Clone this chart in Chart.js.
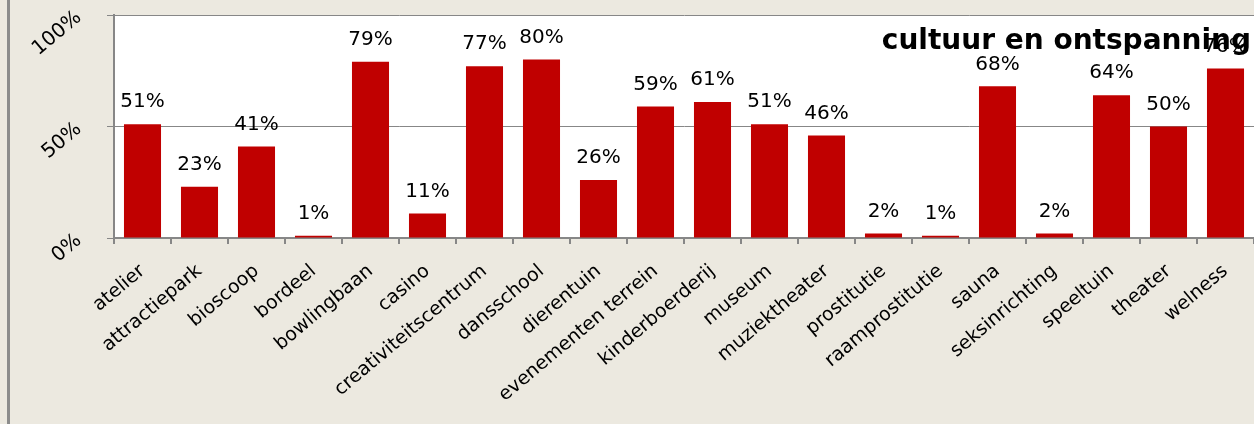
<!DOCTYPE html>
<html>
<head>
<meta charset="utf-8">
<script src="https://cdn.jsdelivr.net/npm/chart.js@4"></script>
<style>
  html, body { margin: 0; padding: 0; background: #ECE9E0; }
  #wrap { position: relative; width: 1254px; height: 424px; }
</style>
</head>
<body>
<div id="wrap"><canvas id="salesChart" width="1254" height="424"></canvas></div>
<script>
const categories = ["atelier", "attractiepark", "bioscoop", "bordeel", "bowlingbaan", "casino",
    "creativiteitscentrum", "dansschool", "dierentuin", "evenementen terrein", "kinderboerderij",
    "museum", "muziektheater", "prostitutie", "raamprostitutie", "sauna", "seksinrichting",
    "speeltuin", "theater", "welness"];
const percentages = [51, 23, 41, 1, 79, 11, 77, 80, 26, 59, 61, 51, 46, 2, 1, 68, 2, 64, 50, 76];
const yTicks = [0, 50, 100];
const chartTitle = "cultuur en ontspanning";

const barColor = "#C00000";
const axisGray = "#878787";

// background, left frame line and white plot area
const backgroundPlugin = {
    id: "bg",
    beforeDraw(c) {
        const ctx = c.ctx;
        const a = c.chartArea;
        ctx.save();
        ctx.fillStyle = "#ECE9E0";
        ctx.fillRect(0, 0, c.width, c.height);
        ctx.fillStyle = "#8C8C8C";
        ctx.fillRect(7, 0, 3, c.height);
        ctx.fillStyle = "#ffffff";
        ctx.fillRect(a.left, a.top, a.right - a.left, a.bottom - a.top);
        ctx.restore();
    }
};

// value labels above bars, then the title on top
const labelPlugin = {
    id: "valueLabels",
    afterDatasetsDraw(c) {
        const ctx = c.ctx;
        const meta = c.getDatasetMeta(0);
        ctx.save();
        ctx.fillStyle = "#000";
        ctx.font = "20px 'DejaVu Sans'";
        ctx.textAlign = "center";
        ctx.textBaseline = "bottom";
        meta.data.forEach((bar, i) => {
            ctx.fillText(percentages[i] + "%", bar.x, bar.y - 12);
        });
        ctx.font = "bold 28px 'DejaVu Sans'";
        ctx.textAlign = "right";
        ctx.textBaseline = "alphabetic";
        ctx.fillText(chartTitle, c.chartArea.right - 3, c.chartArea.top + 34);
        ctx.restore();
    }
};

const ctx = document.getElementById("salesChart").getContext("2d");
const chart = new Chart(ctx, {
    type: "bar",
    data: {
        labels: categories,
        datasets: [{
            data: percentages,
            backgroundColor: barColor,
            barPercentage: 0.65,
            categoryPercentage: 1.0
        }]
    },
    options: {
        responsive: false,
        animation: false,
        layout: { padding: { top: 15, right: 0, left: 0, bottom: 0 } },
        plugins: {
            legend: { display: false },
            tooltip: { enabled: false }
        },
        scales: {
            x: {
                afterFit: (s) => { s.height = 186; s.paddingLeft = 0; s.paddingRight = 0; },
                grid: {
                    display: true,
                    drawOnChartArea: false,
                    offset: true,
                    color: axisGray,
                    lineWidth: 2,
                    tickLength: 6
                },
                border: { color: axisGray, width: 2 },
                ticks: {
                    color: "#000",
                    font: { family: "DejaVu Sans", size: 19 },
                    minRotation: 40,
                    maxRotation: 40,
                    autoSkip: false,
                    padding: 16
                }
            },
            y: {
                min: 0,
                max: 100,
                afterFit: (s) => { s.width = 114; s.paddingTop = 0; s.paddingBottom = 0; },
                afterBuildTicks: (s) => { s.ticks = yTicks.map(v => ({ value: v })); },
                grid: {
                    color: axisGray,
                    lineWidth: 1,
                    tickLength: 7
                },
                border: { color: axisGray, width: 2 },
                ticks: {
                    color: "#000",
                    font: { family: "DejaVu Sans", size: 20 },
                    minRotation: 40,
                    maxRotation: 40,
                    padding: 28,
                    callback: (v) => v + "%"
                }
            }
        }
    },
    plugins: [backgroundPlugin, labelPlugin]
});
</script>
</body>
</html>
